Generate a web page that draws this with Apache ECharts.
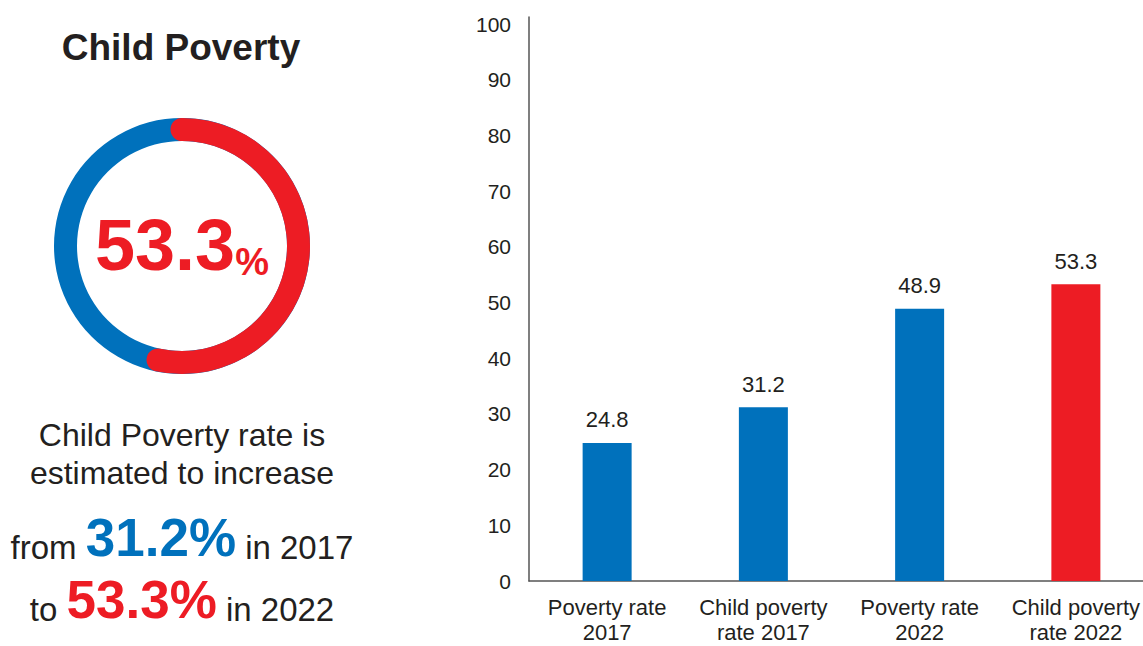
<!DOCTYPE html>
<html>
<head>
<meta charset="utf-8">
<script src="https://cdn.jsdelivr.net/npm/echarts@6/dist/echarts.min.js"></script>
<style>
  html, body { margin: 0; padding: 0; background: #ffffff; }
  #chart { width: 1143px; height: 646px; }
</style>
</head>
<body>
<div id="chart"></div>
<script>
// Poverty rates (%) by measure and year
const categories = ['Poverty rate\n2017', 'Child poverty\nrate 2017', 'Poverty rate\n2022', 'Child poverty\nrate 2022'];
const rates = [24.8, 31.2, 48.9, 53.3];
const highlight = [false, false, false, true];
const yTickValues = [0, 10, 20, 30, 40, 50, 60, 70, 80, 90, 100];

const BLUE = '#0071BC';
const RED = '#ED1C24';
const INK = '#231F20';
const FONT = '"Liberation Sans", Arial, Helvetica, sans-serif';

const childRate2017 = rates[1];
const childRate2022 = rates[3];

// Baseline-aligned mixed-size text: smaller tokens get a shorter box
function smallLH(bigSize, bigLH, smallSize) {
  return Math.round(bigLH - 0.62 * (bigSize - smallSize));
}

const chart = echarts.init(document.getElementById('chart'), null, { renderer: 'svg' });

chart.setOption({
  backgroundColor: '#ffffff',
  animation: false,
  textStyle: { fontFamily: FONT },
  grid: {
    left: 529, top: 17, width: 625, height: 564,
    containLabel: false, outerBoundsMode: 'none'
  },
  xAxis: {
    type: 'category',
    data: categories,
    axisLine: { show: true, lineStyle: { color: '#555555', width: 1.5 } },
    axisTick: { show: false },
    axisLabel: {
      color: INK, fontSize: 22, lineHeight: 25, margin: 14, interval: 0, fontFamily: FONT
    }
  },
  yAxis: {
    type: 'value',
    min: 0,
    max: 101.3,
    interval: 10,
    axisLine: { show: true, lineStyle: { color: '#555555', width: 1.5 } },
    axisTick: { show: false },
    splitLine: { show: false },
    axisLabel: {
      color: INK, fontSize: 21, margin: 18, fontFamily: FONT,
      showMaxLabel: false,
      formatter: v => (yTickValues.indexOf(v) >= 0 ? String(v) : '')
    }
  },
  series: [
    {
      type: 'bar',
      barWidth: 49,
      data: rates.map((v, i) => ({ value: v, itemStyle: { color: highlight[i] ? RED : BLUE } })),
      label: {
        show: true, position: 'top', distance: 12,
        color: INK, fontSize: 22, fontFamily: FONT,
        formatter: p => p.value.toFixed(1)
      }
    },
    {
      type: 'gauge',
      center: [182, 246],
      radius: 128,
      startAngle: 90,
      endAngle: -270,
      min: 0,
      max: 100,
      pointer: { show: false },
      axisLine: { lineStyle: { width: 23, color: [[1, BLUE]] } },
      progress: { show: true, width: 23, roundCap: true, itemStyle: { color: RED } },
      axisTick: { show: false },
      splitLine: { show: false },
      axisLabel: { show: false },
      title: { show: false },
      detail: {
        show: true,
        offsetCenter: [0, -1],
        formatter: v => '{n|' + v.toFixed(1) + '}{p|%}',
        rich: {
          n: { color: RED, fontSize: 72, fontWeight: 'bold', lineHeight: 72, verticalAlign: 'bottom', fontFamily: FONT },
          p: { color: RED, fontSize: 38, fontWeight: 'bold', lineHeight: smallLH(72, 72, 38), verticalAlign: 'bottom', fontFamily: FONT }
        }
      },
      data: [{ value: childRate2022 }]
    }
  ],
  graphic: [
    {
      type: 'text', x: 181, y: 47,
      style: { text: 'Child Poverty', fill: INK, font: 'bold 37px ' + FONT, align: 'center', verticalAlign: 'middle' }
    },
    {
      type: 'text', x: 182, y: 435,
      style: { text: 'Child Poverty rate is', fill: INK, font: '32px ' + FONT, align: 'center', verticalAlign: 'middle' }
    },
    {
      type: 'text', x: 182, y: 473,
      style: { text: 'estimated to increase', fill: INK, font: '32px ' + FONT, align: 'center', verticalAlign: 'middle' }
    },
    {
      type: 'text', x: 182, y: 537,
      style: {
        text: '{s|from }{b|' + childRate2017.toFixed(1) + '%}{s| in 2017}',
        align: 'center', verticalAlign: 'middle',
        rich: {
          s: { fill: INK, fontSize: 33, fontFamily: FONT, lineHeight: smallLH(53, 53, 33), verticalAlign: 'bottom' },
          b: { fill: BLUE, fontSize: 53, fontWeight: 'bold', fontFamily: FONT, lineHeight: 53, verticalAlign: 'bottom' }
        }
      }
    },
    {
      type: 'text', x: 182, y: 599,
      style: {
        text: '{s|to }{b|' + childRate2022.toFixed(1) + '%}{s| in 2022}',
        align: 'center', verticalAlign: 'middle',
        rich: {
          s: { fill: INK, fontSize: 33, fontFamily: FONT, lineHeight: smallLH(53, 53, 33), verticalAlign: 'bottom' },
          b: { fill: RED, fontSize: 53, fontWeight: 'bold', fontFamily: FONT, lineHeight: 53, verticalAlign: 'bottom' }
        }
      }
    }
  ]
});
</script>
</body>
</html>
